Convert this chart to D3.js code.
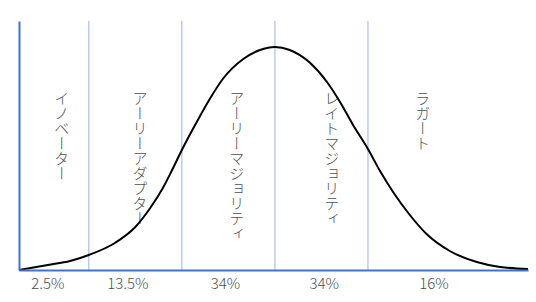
<!DOCTYPE html>
<html>
<head>
<meta charset="utf-8">
<script src="https://cdn.jsdelivr.net/npm/d3@7"></script>
<style>
  body { margin: 0; background: #fff; }
  svg { display: block; }
</style>
</head>
<body>
<div id="chart"></div>
<script>
// curve points (x in std-dev units, y = curve height)
const curveZ = [-2.75, -2.44, -2.20, -2.00, -1.72, -1.50, -1.34, -1.21, -1.11, -1.00,
  -0.84, -0.70, -0.56, -0.34, -0.16, 0, 0.16, 0.38, 0.56, 0.70,
  0.84, 1.00, 1.13, 1.27, 1.45, 1.63, 1.88, 2.17, 2.42, 2.72];
const curveH = [0, 5, 9, 15, 27, 43, 62, 81, 99, 120,
  148, 171, 191, 211, 220, 223, 220, 207, 188, 168,
  145, 121, 99, 78, 55, 36, 19, 8, 3, 1];

// segment boundaries
const dividers = [-2, -1, 0, 1];

// adopter groups
const groups = ["イノベーター", "アーリーアダプター", "アーリーマジョリティ", "レイトマジョリティ", "ラガート"];
const groupZ = [-2.29, -1.45, -0.41, 0.61, 1.59];
const shares = ["2.5%", "13.5%", "34%", "34%", "16%"];
const shareZ = [-2.44, -1.58, -0.53, 0.53, 1.71];

let dimensions = {
  width: 536,
  height: 302,
  margin: { top: 21, bottom: 32, left: 19, right: 8 },
};
dimensions.containerWidth = dimensions.width - dimensions.margin.left - dimensions.margin.right;
dimensions.containerHeight = dimensions.height - dimensions.margin.top - dimensions.margin.bottom;

const svg = d3.select("#chart").append("svg")
  .attr("width", dimensions.width)
  .attr("height", dimensions.height);

const container = svg.append("g")
  .attr("transform", `translate(${dimensions.margin.left}, ${dimensions.margin.top})`);

const xScale = d3.scaleLinear()
  .domain([-2.75, 2.72])
  .range([0, dimensions.containerWidth]);

const yScale = d3.scaleLinear()
  .domain([0, 249])
  .range([dimensions.containerHeight, 0]);

// divider lines
container.selectAll(".divider")
  .data(dividers)
  .join("line")
  .attr("class", "divider")
  .attr("x1", d => xScale(d))
  .attr("x2", d => xScale(d))
  .attr("y1", 0)
  .attr("y2", dimensions.containerHeight)
  .attr("stroke", "#a9bfe8")
  .attr("stroke-width", 1.2);

// vertical group labels
container.selectAll(".group")
  .data(groups)
  .join("text")
  .attr("class", "group")
  .attr("x", (d, i) => xScale(groupZ[i]))
  .attr("y", 70)
  .style("writing-mode", "vertical-rl")
  .style("font-family", "'Noto Sans CJK JP', sans-serif")
  .style("font-size", "15px")
  .style("font-weight", 300)
  .attr("fill", "#505050")
  .text(d => d);

// bell curve
const line = d3.line()
  .x((d, i) => xScale(curveZ[i]))
  .y(d => yScale(d))
  .curve(d3.curveMonotoneX);

container.append("path")
  .datum(curveH)
  .attr("d", line)
  .attr("fill", "none")
  .attr("stroke", "#000")
  .attr("stroke-width", 2);

// axes (no ticks)
const xAxisGroup = container.append("g")
  .attr("transform", `translate(0, ${dimensions.containerHeight})`)
  .call(d3.axisBottom(xScale).tickValues([]).tickSizeOuter(0));
const yAxisGroup = container.append("g")
  .call(d3.axisLeft(yScale).tickValues([]).tickSizeOuter(0));
[xAxisGroup, yAxisGroup].forEach(g => {
  g.select(".domain").attr("stroke", "#4472c4").attr("stroke-width", 2);
});

// share labels
container.selectAll(".share")
  .data(shares)
  .join("text")
  .attr("class", "share")
  .attr("x", (d, i) => xScale(shareZ[i]))
  .attr("y", dimensions.containerHeight + 19)
  .attr("text-anchor", "middle")
  .style("font-family", "'Noto Sans CJK JP', sans-serif")
  .style("font-size", "15px")
  .style("font-weight", 300)
  .attr("fill", "#505050")
  .text(d => d);
</script>
</body>
</html>
